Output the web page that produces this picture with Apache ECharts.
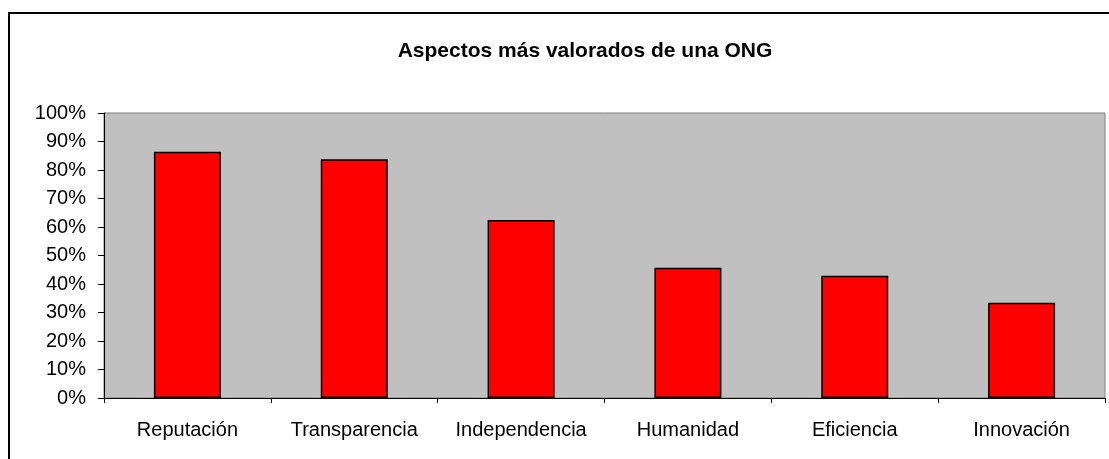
<!DOCTYPE html>
<html>
<head>
<meta charset="utf-8">
<script src="https://cdn.jsdelivr.net/npm/echarts@6/dist/echarts.min.js"></script>
<style>
html,body{margin:0;padding:0;background:#fff;}
#chart{width:1109px;height:459px;}
</style>
</head>
<body>
<div id="chart"></div>
<script>
const titleText = 'Aspectos más valorados de una ONG';
const categories = ['Reputación', 'Transparencia', 'Independencia', 'Humanidad', 'Eficiencia', 'Innovación'];
const values = [0.864, 0.838, 0.625, 0.457, 0.429, 0.334];

const chart = echarts.init(document.getElementById('chart'));
const FONT = '"Liberation Sans", Arial, sans-serif';
chart.setOption({
  animation: false,
  backgroundColor: '#ffffff',
  title: {
    text: titleText,
    left: 580, top: 36, textAlign: 'center',
    textStyle: {fontFamily: FONT, fontWeight: 'bold', fontSize: 21, color: '#000'}
  },
  graphic: [{
    type: 'rect', shape: {x: 9, y: 13, width: 1200, height: 500},
    style: {fill: 'none', stroke: '#000', lineWidth: 2}, silent: true, z: 100
  }],
  grid: {
    left: 104, top: 113, right: 4, bottom: 61,
    show: true, backgroundColor: '#c0c0c0', borderColor: '#808080', borderWidth: 1
  },
  xAxis: {
    type: 'category', data: categories,
    axisLine: {lineStyle: {color: '#000', width: 1}},
    axisTick: {show: true, length: 5, interval: 0, lineStyle: {color: '#000'}},
    axisLabel: {fontFamily: FONT, fontSize: 20, color: '#000', margin: 22, interval: 0, hideOverlap: false}
  },
  yAxis: {
    type: 'value', min: 0, max: 1, interval: 0.1,
    axisLine: {show: true, lineStyle: {color: '#000', width: 1}},
    axisTick: {show: true, length: 6, lineStyle: {color: '#000'}},
    splitLine: {show: false},
    axisLabel: {fontFamily: FONT, fontSize: 20, color: '#000', margin: 18,
      formatter: v => Math.round(v * 100) + '%'}
  },
  series: [{
    type: 'bar', data: values, barWidth: 67,
    itemStyle: {color: '#ff0000', borderColor: '#000', borderWidth: 1.5}
  }]
});
</script>
</body>
</html>
